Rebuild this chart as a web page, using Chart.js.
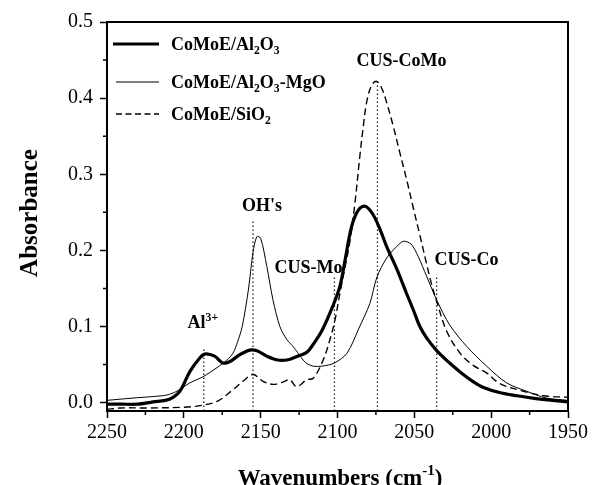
<!DOCTYPE html>
<html>
<head>
<meta charset="utf-8">
<script src="https://cdn.jsdelivr.net/npm/chart.js@4.4.0/dist/chart.umd.min.js"></script>
<style>
  html, body { margin: 0; padding: 0; background: #fff; }
</style>
</head>
<body>
<canvas id="irChart" width="592" height="485"></canvas>
<script>
// CO adsorption IR spectra (wavenumber cm-1 -> absorbance)
const wnAl2O3 = [2250, 2240, 2230, 2220, 2212, 2207, 2202.5, 2196, 2189.5, 2186, 2180, 2174.5, 2170, 2163.5, 2157, 2152.4, 2146, 2139, 2133, 2126, 2120, 2116, 2110, 2103, 2098.4, 2095, 2092, 2089.5, 2086, 2082, 2079, 2076, 2072, 2068, 2061.5, 2055, 2050.7, 2046.4, 2042, 2035.3, 2027, 2020, 2012, 2005, 1994, 1983, 1973, 1960, 1950];
const absAl2O3 = [-0.002, -0.002, -0.002, 0.001, 0.003, 0.007, 0.015, 0.041, 0.059, 0.064, 0.061, 0.052, 0.054, 0.063, 0.069, 0.068, 0.061, 0.056, 0.056, 0.061, 0.066, 0.076, 0.095, 0.127, 0.153, 0.188, 0.221, 0.24, 0.254, 0.258, 0.253, 0.244, 0.226, 0.205, 0.176, 0.143, 0.122, 0.1, 0.085, 0.068, 0.052, 0.04, 0.028, 0.02, 0.013, 0.009, 0.006, 0.003, 0.001];

const wnAl2O3MgO = [2250, 2233, 2220, 2211, 2204.5, 2196, 2187.5, 2178.4, 2172, 2168, 2165, 2162, 2158, 2155, 2152.5, 2150, 2146, 2142, 2137.5, 2133, 2129, 2126, 2121, 2116, 2110, 2102, 2093.8, 2086, 2079, 2074.3, 2068, 2061.5, 2057, 2052, 2047.5, 2042, 2035.5, 2027, 2016, 2003, 1990, 1977, 1964, 1950];
const absAl2O3MgO = [0.003, 0.006, 0.008, 0.01, 0.015, 0.026, 0.034, 0.046, 0.056, 0.065, 0.08, 0.1, 0.148, 0.197, 0.218, 0.216, 0.179, 0.135, 0.1, 0.083, 0.074, 0.066, 0.053, 0.048, 0.048, 0.052, 0.065, 0.098, 0.13, 0.165, 0.19, 0.205, 0.212, 0.208, 0.192, 0.166, 0.135, 0.102, 0.074, 0.048, 0.026, 0.015, 0.006, 0.003];

const wnSiO2 = [2250, 2241.5, 2222, 2200, 2189.5, 2178, 2168, 2161.5, 2155, 2148.5, 2142, 2135.5, 2131, 2126.6, 2120, 2115.8, 2109.3, 2104.9, 2101.6, 2098.4, 2095.2, 2091.9, 2088.6, 2085.4, 2083.2, 2081, 2077.8, 2074.5, 2071, 2068, 2063.7, 2059.4, 2055, 2050.7, 2046.4, 2042, 2038.7, 2035, 2029, 2020.3, 2011.7, 2003, 1994.3, 1979, 1966, 1950];
const absSiO2 = [-0.009, -0.007, -0.007, -0.006, -0.004, 0.002, 0.017, 0.028, 0.037, 0.028, 0.024, 0.027, 0.03, 0.021, 0.03, 0.032, 0.056, 0.083, 0.109, 0.144, 0.177, 0.212, 0.263, 0.325, 0.363, 0.395, 0.417, 0.422, 0.412, 0.394, 0.363, 0.328, 0.293, 0.256, 0.22, 0.182, 0.155, 0.13, 0.094, 0.065, 0.049, 0.039, 0.025, 0.015, 0.009, 0.007];

// band assignments: dotted marker position and how high it reaches
const bandNames = ['Al', "OH's", 'CUS-Mo', 'CUS-CoMo', 'CUS-Co'];
const bandWn = [2187, 2155, 2102, 2074, 2035.5];
const bandTop = [0.07, 0.24, 0.166, 0.422, 0.168];

const xTicks = [2250, 2200, 2150, 2100, 2050, 2000, 1950];
const xMinor = [2225, 2175, 2125, 2075, 2025, 1975];
const yTicks = [0.0, 0.1, 0.2, 0.3, 0.4, 0.5];
const yMinor = [0.05, 0.15, 0.25, 0.35, 0.45];

const Y_MIN = -0.011;
const SERIF = '"Liberation Serif", "Times New Roman", serif';

function toPoints(xs, ys) {
    return xs.map((x, i) => ({ x: x, y: ys[i] }));
}

// text with sub/superscripts, parts = [[text, 'n'|'sub'|'sup'], ...]
function richWidth(ctx, parts, size) {
    let w = 0;
    parts.forEach(p => {
        const s = p[1] === 'n' ? size : size * 0.65;
        ctx.font = 'bold ' + s + 'px ' + SERIF;
        w += ctx.measureText(p[0]).width;
    });
    return w;
}
function drawRich(ctx, parts, x, y, size) {
    ctx.textAlign = 'left';
    ctx.textBaseline = 'alphabetic';
    parts.forEach(p => {
        const s = p[1] === 'n' ? size : size * 0.65;
        ctx.font = 'bold ' + s + 'px ' + SERIF;
        let dy = 0;
        if (p[1] === 'sub') dy = size * 0.22;
        if (p[1] === 'sup') dy = -size * 0.42;
        ctx.fillText(p[0], x, y + dy);
        x += ctx.measureText(p[0]).width;
    });
}

const legendItems = [
    { parts: [['CoMoE/Al', 'n'], ['2', 'sub'], ['O', 'n'], ['3', 'sub']], width: 3.2, dash: [], x0: 113, y: 44 },
    { parts: [['CoMoE/Al', 'n'], ['2', 'sub'], ['O', 'n'], ['3', 'sub'], ['-MgO', 'n']], width: 1, dash: [], x0: 116, y: 82 },
    { parts: [['CoMoE/SiO', 'n'], ['2', 'sub']], width: 1.3, dash: [6, 3.5], x0: 116, y: 114 }
];

// label anchor relative to top of each dotted marker (px)
const bandLabelOffset = [[-1, -21], [9, -9], [-26, -3], [24, -15], [30, -10]];

const decorPlugin = {
    id: 'decor',
    afterDraw(chart) {
        const ctx = chart.ctx;
        const area = chart.chartArea;
        const xs = chart.scales.x, ys = chart.scales.y;
        ctx.save();
        ctx.fillStyle = '#000';
        ctx.strokeStyle = '#000';

        // frame
        ctx.lineWidth = 2;
        ctx.strokeRect(area.left, area.top, area.right - area.left, area.bottom - area.top);

        // minor ticks
        ctx.lineWidth = 1.5;
        ctx.beginPath();
        xMinor.forEach(v => {
            const px = xs.getPixelForValue(v);
            ctx.moveTo(px, area.bottom);
            ctx.lineTo(px, area.bottom + 4);
        });
        yMinor.forEach(v => {
            const py = ys.getPixelForValue(v);
            ctx.moveTo(area.left, py);
            ctx.lineTo(area.left - 4, py);
        });
        ctx.stroke();

        // band labels
        bandNames.forEach((name, i) => {
            const px = xs.getPixelForValue(bandWn[i]) + bandLabelOffset[i][0];
            const py = ys.getPixelForValue(bandTop[i]) + bandLabelOffset[i][1];
            const parts = i === 0 ? [[name, 'n'], ['3+', 'sup']] : [[name, 'n']];
            const w = richWidth(ctx, parts, 18);
            drawRich(ctx, parts, px - w / 2, py, 18);
        });

        // legend
        legendItems.forEach(it => {
            ctx.lineWidth = it.width;
            ctx.setLineDash(it.dash);
            ctx.beginPath();
            ctx.moveTo(it.x0, it.y);
            ctx.lineTo(159, it.y);
            ctx.stroke();
            ctx.setLineDash([]);
            drawRich(ctx, it.parts, 171, it.y + 6, 18);
        });

        // axis titles
        ctx.save();
        ctx.translate(37, 213);
        ctx.rotate(-Math.PI / 2);
        ctx.font = 'bold 25px ' + SERIF;
        ctx.textAlign = 'center';
        ctx.textBaseline = 'alphabetic';
        ctx.fillText('Absorbance', 0, 0);
        ctx.restore();

        const tParts = [['Wavenumbers (cm', 'n'], ['-1', 'sup'], [')', 'n']];
        const tw = richWidth(ctx, tParts, 23);
        drawRich(ctx, tParts, 340 - tw / 2, 485, 23);
        ctx.restore();
    }
};

const datasets = [
    { label: 'CoMoE/Al2O3', data: toPoints(wnAl2O3, absAl2O3), borderColor: '#000', borderWidth: 3.2, tension: 0.35 },
    { label: 'CoMoE/Al2O3-MgO', data: toPoints(wnAl2O3MgO, absAl2O3MgO), borderColor: '#000', borderWidth: 1, tension: 0.3 },
    { label: 'CoMoE/SiO2', data: toPoints(wnSiO2, absSiO2), borderColor: '#000', borderWidth: 1.4, borderDash: [7, 4], tension: 0.35 }
];
bandWn.forEach((wn, i) => {
    datasets.push({
        label: bandNames[i],
        data: [{ x: wn, y: Y_MIN }, { x: wn, y: bandTop[i] }],
        borderColor: '#222',
        borderWidth: 1.3,
        borderDash: [1.5, 2.5],
        tension: 0
    });
});
datasets.forEach(d => {
    d.showLine = true;
    d.pointRadius = 0;
    d.fill = false;
});

Chart.defaults.font.family = SERIF;
Chart.defaults.color = '#000';

new Chart(document.getElementById('irChart').getContext('2d'), {
    type: 'scatter',
    data: { datasets: datasets },
    options: {
        responsive: false,
        animation: false,
        devicePixelRatio: 1,
        layout: { padding: { top: 22, right: 24, left: 0, bottom: 0 } },
        plugins: { legend: { display: false }, tooltip: { enabled: false } },
        scales: {
            x: {
                type: 'linear',
                reverse: true,
                min: 1950,
                max: 2250,
                afterBuildTicks: s => { s.ticks = xTicks.map(v => ({ value: v })); },
                afterFit: s => { s.height = 74; },
                ticks: { font: { size: 20 }, color: '#000', padding: 3, maxRotation: 0, callback: v => String(v) },
                grid: { drawOnChartArea: false, drawTicks: true, tickLength: 7, tickWidth: 1.5, tickColor: '#000' },
                border: { display: true, color: '#000', width: 2 }
            },
            y: {
                min: Y_MIN,
                max: 0.5,
                afterBuildTicks: s => { s.ticks = yTicks.map(v => ({ value: v })); },
                afterFit: s => { s.width = 107; },
                ticks: { font: { size: 20 }, color: '#000', padding: 7, callback: v => v.toFixed(1) },
                grid: { drawOnChartArea: false, drawTicks: true, tickLength: 7, tickWidth: 1.5, tickColor: '#000' },
                border: { display: true, color: '#000', width: 2 }
            }
        }
    },
    plugins: [decorPlugin]
});
</script>
</body>
</html>
